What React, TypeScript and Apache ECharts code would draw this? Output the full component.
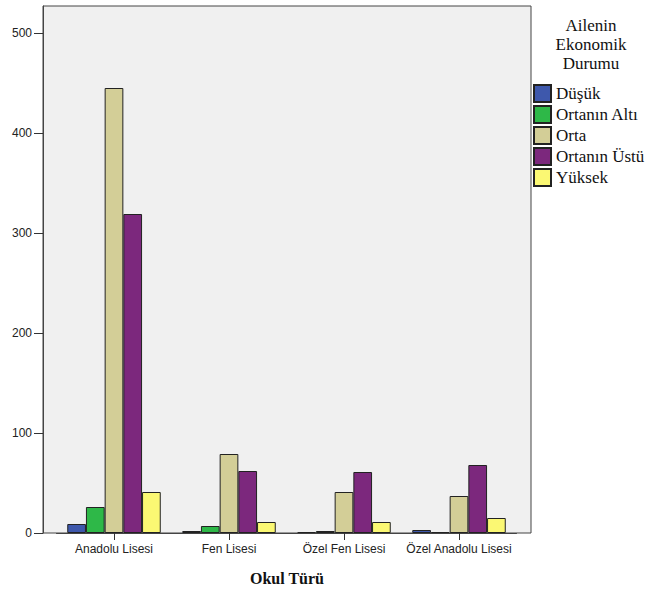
import React, { useEffect, useRef } from "react";
import * as echarts from "echarts";

const categories = ["Anadolu Lisesi", "Fen Lisesi", "Özel Fen Lisesi", "Özel Anadolu Lisesi"];
const seriesNames = ["Düşük", "Ortanın Altı", "Orta", "Ortanın Üstü", "Yüksek"];
const dusuk = [9, 2, 1, 3];
const ortaninAlti = [26, 7, 2, 1];
const orta = [445, 79, 41, 37];
const ortaninUstu = [319, 62, 61, 68];
const yuksek = [41, 11, 11, 15];
const seriesValues = [dusuk, ortaninAlti, orta, ortaninUstu, yuksek];
const seriesColors = ["#3E58AC", "#2EB848", "#D3CE97", "#7C287D", "#FBF873"];
const yTicks = [0, 100, 200, 300, 400, 500];
const legendTitle = "Ailenin\nEkonomik\nDurumu";
const xTitle = "Okul Türü";

const SERIF = "'Liberation Serif', 'DejaVu Serif', serif";
const SANS = "'Liberation Sans', Arial, sans-serif";

export default function App() {
  const ref = useRef<HTMLDivElement>(null);
  useEffect(() => {
    if (!ref.current) return;
    const chart = echarts.init(ref.current, null, { renderer: "svg" });
    const yMax = 527;
    chart.setOption({
      animation: false,
      backgroundColor: "#ffffff",
      grid: [
        {
          left: 43, top: 6, width: 488, height: 527,
          show: true, backgroundColor: "#f0f0f0", borderColor: "#444", borderWidth: 1,
        },
        { left: 56.5, top: 6, width: 460, height: 527 },
      ],
      xAxis: [
        { gridIndex: 0, type: "value", min: 0, max: 1, show: false },
        {
          gridIndex: 1, type: "category", data: categories,
          axisLine: { show: true, lineStyle: { color: "#444", width: 1 } },
          axisTick: { show: true, alignWithLabel: true, length: 7, lineStyle: { color: "#333", width: 1 } },
          axisLabel: { interval: 0, fontSize: 12, color: "#222", fontFamily: SANS, margin: 10 },
          splitLine: { show: false },
        },
      ],
      yAxis: [
        {
          gridIndex: 0, type: "value", min: 0, max: yMax,
          axisLine: { show: true, lineStyle: { color: "#444", width: 1 } },
          axisTick: { show: true, length: 9, customValues: yTicks, lineStyle: { color: "#333" } },
          axisLabel: {
            customValues: yTicks, fontSize: 12, color: "#222", fontFamily: SANS, margin: 11,
            formatter: (v: number) => (v % 100 === 0 ? String(v) : ""),
          },
          splitLine: { show: false },
        },
        { gridIndex: 1, type: "value", min: 0, max: yMax, show: false, splitLine: { show: false } },
      ],
      legend: {
        orient: "vertical", left: 533, top: 84, padding: 0,
        itemWidth: 17, itemHeight: 17, itemGap: 2,
        icon: "rect",
        textStyle: { fontFamily: SERIF, fontSize: 17, color: "#111" },
        data: seriesNames,
      },
      series: seriesNames.map((name, i) => ({
        name, type: "bar", xAxisIndex: 1, yAxisIndex: 1,
        data: seriesValues[i], barWidth: 18.7, barGap: "0%",
        itemStyle: { color: seriesColors[i], borderColor: "#222", borderWidth: 1 },
      })),
      graphic: [
        {
          type: "text", x: 591, y: 16,
          style: {
            text: legendTitle, fontFamily: SERIF, fontSize: 17, lineHeight: 19,
            fill: "#111", align: "center", verticalAlign: "top",
          },
        },
        {
          type: "text", x: 287, y: 578,
          style: {
            text: xTitle, fontFamily: SERIF, fontSize: 16, fontWeight: "bold",
            fill: "#111", align: "center", verticalAlign: "middle",
          },
        },
      ],
    });
    return () => chart.dispose();
  }, []);
  return <div ref={ref} style={{ position: "fixed", left: 0, top: 0, width: 646, height: 590 }} />;
}
